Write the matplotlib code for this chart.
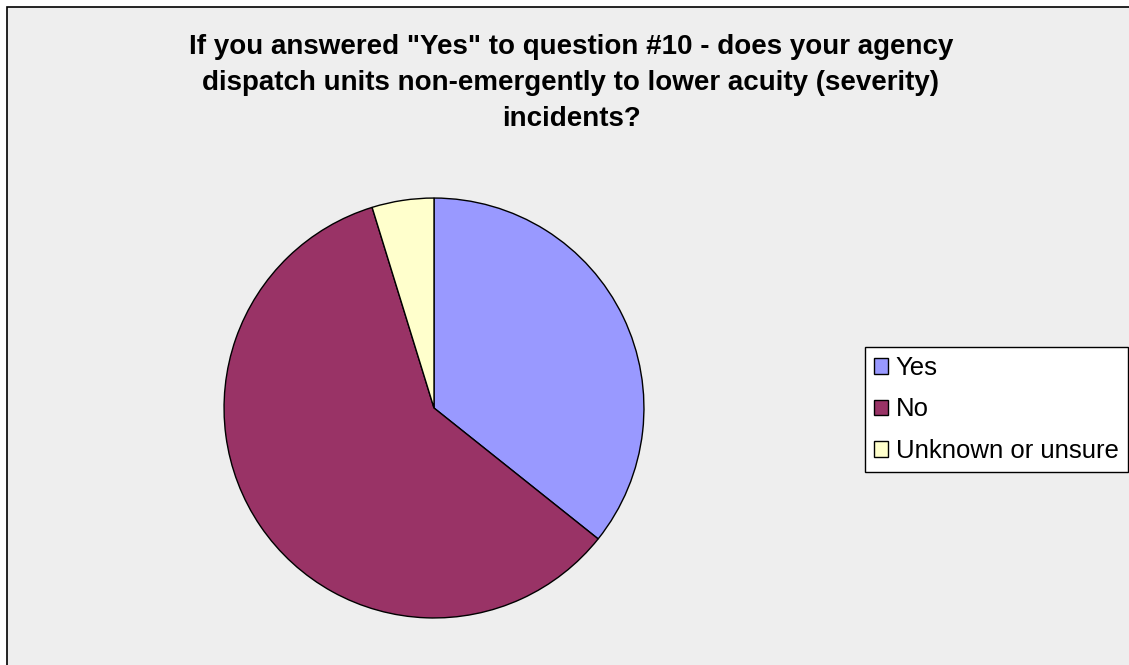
import matplotlib.pyplot as plt
from matplotlib.patches import Rectangle, Patch

# survey answers (counts)
labels = ["Yes", "No", "Unknown or unsure"]
counts = [15, 25, 2]
colors = ["#9999FF", "#993366", "#FFFFCC"]

title = ('If you answered "Yes" to question #10 - does your agency\n'
         'dispatch units non-emergently to lower acuity (severity)\n'
         'incidents?')

W, H = 1129, 665
fig = plt.figure(figsize=(W / 100, H / 100), dpi=100)
fig.patch.set_facecolor("white")

# grey chart area with black border (runs off right/bottom edge)
fig.patches.append(Rectangle((7 / W, -0.01), 1.02, 1 - 7 / H + 0.01,
                             transform=fig.transFigure, facecolor="#EEEEEE",
                             edgecolor="black", linewidth=1.2, zorder=-5))

fig.text(571 / W, 1 - 34 / H, title, ha="center", va="top",
         fontsize=20, fontweight="bold", family="Liberation Sans",
         linespacing=1.49)

# pie
cx, cy, r = 434, 408, 211
ax = fig.add_axes([(cx - r) / W, (H - cy - r) / H, 2 * r / W, 2 * r / H])
ax.pie(counts, colors=colors, startangle=90, counterclock=False, radius=1,
       wedgeprops=dict(edgecolor="black", linewidth=1))
ax.set_xlim(-1.005, 1.005)
ax.set_ylim(-1.005, 1.005)
ax.set_aspect("equal")
ax.axis("off")

handles = [Patch(facecolor=c, edgecolor="black", linewidth=1) for c in colors]
leg = fig.legend(handles, labels, loc="upper left",
                 bbox_to_anchor=(865 / W, 1 - 347 / H),
                 prop={"family": "Liberation Sans", "size": 18.5},
                 frameon=True, fancybox=False, shadow=False, framealpha=1,
                 handlelength=0.55, handleheight=0.55, handletextpad=0.3,
                 labelspacing=0.68, borderpad=0.35, borderaxespad=0)
leg.get_frame().set_edgecolor("black")
leg.get_frame().set_facecolor("white")
leg.get_frame().set_linewidth(1)

fig.savefig("out.png", dpi=100)
